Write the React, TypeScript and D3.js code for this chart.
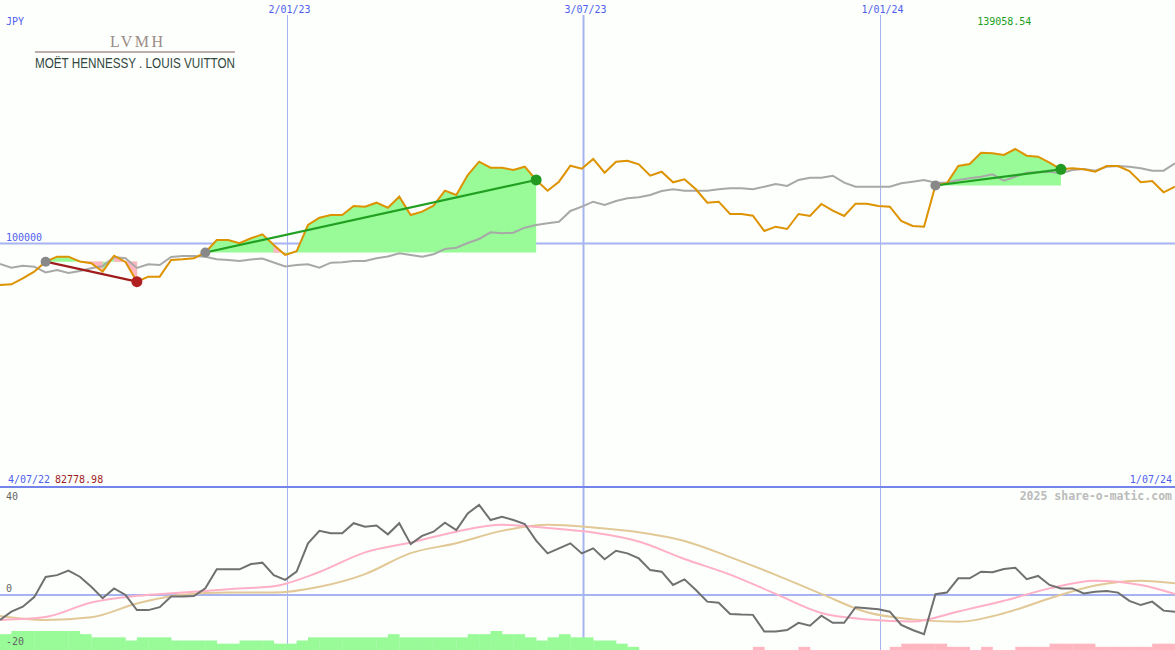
import * as d3 from 'd3';

// weekly closes, first week starts here
const startWeek = new Date(2022, 6, 10);

const price = [
  82778.98, 83080, 85480, 88290, 92430, 94500, 94500, 92500, 91770, 88290,
  94910, 92300, 84150, 86220, 86220, 93130, 93420, 93830, 96230, 101410,
  101410, 100040, 102110, 103770, 99340, 95200, 96730, 107610, 110640, 111750,
  111750, 115480, 115190, 116840, 114770, 119320, 111750, 113120, 115600, 121810,
  120030, 128300, 133810, 131330, 131330, 130370, 131740, 126240, 121810, 125530,
  132150, 130910, 134930, 129260, 133810, 134220, 132730, 128010, 129670, 125280,
  126530, 122390, 116840, 117260, 112170, 112170, 111460, 105130, 106910, 105960,
  112170, 111340, 116300, 113530, 111340, 116430, 116430, 115480, 115190, 109270,
  107200, 106910, 123960, 124870, 132030, 132860, 137530, 137280, 136580, 139058.54,
  136290, 135880, 133390, 130660, 131080, 130660, 129670, 132030, 132030, 129960,
  125280, 125820, 121150, 123460,
];

const average = [
  91476, 89945, 90772, 90358, 87958, 88993, 87752, 88579, 89696, 90648,
  94372, 93834, 89821, 91352, 91062, 94372, 94786, 94786, 94496, 93421,
  93131, 92717, 93338, 93752, 92096, 90441, 91062, 91352, 89945, 92014,
  92179, 92717, 92717, 93834, 94579, 95903, 95200, 94496, 95490, 97683,
  98221, 100166, 101821, 104593, 104179, 104428, 106497, 107614, 108317, 108979,
  113407, 115186, 117255, 115890, 117545, 118662, 119076, 120028, 121683, 122387,
  121807, 121807, 121807, 122387, 122800, 122800, 122387, 123462, 124580, 123752,
  126235, 127187, 127187, 128014, 125118, 123462, 123462, 123462, 123462, 124869,
  125531, 126235, 125118, 125118, 126235, 126938, 127600, 128594, 125945, 127600,
  129256, 129421, 129669, 129007, 130373, 130787, 130083, 131738, 132028, 131738,
  131076, 130083, 130083, 133145,
];

const momentum = [
  -9.4, -6.3, -4.4, -0.8, 6.8, 7.5, 9.2, 6.9, 3.1, -1.2,
  2.5, 0, -5.7, -5.7, -4.6, -0.6, -0.6, -0.4, 2.5, 9.7,
  9.7, 9.7, 11.7, 12.2, 7.5, 5.7, 8.8, 19.5, 24.2, 23.3,
  23.3, 27.1, 25.8, 26.2, 22.9, 27.1, 19.2, 22.3, 23.9, 27.3,
  24.5, 30.8, 34, 28.3, 29.5, 28.3, 26.8, 20.5, 15.7, 17.6,
  19.5, 15.7, 17.6, 13.5, 16.7, 15.7, 13.8, 9.4, 8.8, 3.8,
  5.9, 1.9, -2.5, -2.9, -7.2, -7.4, -7.5, -13.8, -13.8, -13.2,
  -10.5, -11.6, -7.8, -10.5, -10.5, -4.6, -5, -5.4, -6.3, -11.3,
  -13.2, -14.8, 0.3, 0.9, 6.3, 6.3, 8.8, 8.6, 9.8, 10.3,
  6, 7.2, 3.8, 2.5, 2.5, 0.6, 1.2, 1.5, 0.9, -2.2,
  -3.8, -2.5, -5.9, -6.3,
];

// smoothed momentum, read every 4th week
const maWeeks = [0, 4, 8, 12, 16, 20, 24, 28, 32, 36, 40, 44, 48, 52, 56, 60, 64, 68, 72, 76, 80, 84, 88, 92, 96, 100, 103];
const fastMa = [-9.4, -8.3, -2.8, -0.3, 0.9, 2.2, 3.3, 8.7, 16.1, 19.8, 23.9, 26.5, 25.3, 23.6, 20.2, 13.6, 7.7, 0.4, -6.8, -9.2, -10, -6.2, -2.2, 2.5, 5.4, 3.8, 0.4];
const slowMa = [-7.9, -9.4, -8.4, -3.2, 0.1, 0.9, 0.9, 3.1, 7.9, 15.8, 19.5, 24.2, 26.5, 25.5, 23.7, 20.4, 14.3, 7.6, 0.4, -6.5, -9.2, -10.1, -6.9, -1.3, 3.6, 5.4, 4.4];

// signal histogram per week (+ green, - pink)
const signal = [
  5, 6, 6, 6, 6, 6, 6, 5, 4, 4,
  4, 3, 4, 4, 4, 3, 3, 3, 3, 2,
  2, 3, 3, 3, 2, 2, 3, 4, 4, 4,
  4, 4, 4, 4, 5, 4, 4, 4, 4, 4,
  4, 5, 5, 6, 5, 5, 4, 3, 4, 5,
  4, 4, 3, 3, 2, 1, 0, 0, 0, 0,
  0, 0, 0, 0, 0, 0, -1, 0, 0, 0,
  -1, 0, 0, 0, 0, 0, 0, 0, -1, -2,
  -2, -2, -2, -1, -1, 0, -1, 0, 0, -1,
  -1, -1, -2, -2, -2, -2, -1, -1, -1, -1,
  -1, -2, -2,
];

const trades = [
  { entry: 4, exit: 12 },
  { entry: 18, exit: 47 },
  { entry: 82, exit: 93 },
];

const gridDates = ['2/01/23', '3/07/23', '1/01/24'];
const momentumTicks = [40, 0, -20];

const W = 1175;
const H = 650;
const mono = '"DejaVu Sans Mono", monospace';
const blue = '#5060ee';
const gridBlue = '#a8b4f2';
const green = '#98fb98';
const pink = '#ffb6c1';

export default function App() {
  const weeks = price.map((_, i) => d3.timeDay.offset(startWeek, 7 * i));
  const parse = d3.timeParse('%d/%m/%y');

  const x = d3.scaleTime().domain([weeks[0], weeks[weeks.length - 1]]).range([0, W]);
  const y = d3.scaleLinear().domain([d3.min(price)!, d3.max(price)!]).range([285, 149]);
  const ym = d3.scaleLinear().domain([-20, 40]).range([648, 489]);
  const yb = d3.scaleLinear().domain([0, 6]).range([0, 19]);

  const weekLine = d3.line<number>().x((_, i) => x(weeks[i])).y(v => y(v));
  const momLine = d3.line<number>().x((_, i) => x(weeks[i])).y(v => ym(v));
  const smooth = d3.line<number>().x((_, k) => x(weeks[maWeeks[k]])).y(v => ym(v)).curve(d3.curveMonotoneX);

  const maxIdx = d3.maxIndex(price);
  const minIdx = d3.minIndex(price);

  // each trade: green area between entry price and close, pink where the week closes under entry
  const fills = trades.map((t, ti) => {
    const base = y(price[t.entry]);
    const area = d3.area<number>().x(j => x(weeks[j])).y0(base).y1(j => y(price[j]));
    const pinks = d3.range(t.entry + 1, t.exit + 1).filter(i => price[i] < price[t.entry]);
    return (
      <g key={`f${ti}`}>
        <path d={area(d3.range(t.entry, t.exit + 1)) || ''} fill={green} />
        {pinks.map(i => (
          <path key={i} d={area([i - 1, i]) || ''} fill={pink} stroke={pink} strokeWidth={0.5} />
        ))}
      </g>
    );
  });

  return (
    <>
      <style>{'body{margin:0}'}</style>
      <svg width={W} height={H} style={{ display: 'block', background: '#fcfffc' }}>
        <defs>
          <clipPath id="main">
            <rect x={0} y={15} width={W} height={471} />
          </clipPath>
          <clipPath id="lower">
            <rect x={0} y={488} width={W} height={H - 488} />
          </clipPath>
        </defs>

        {/* vertical date grid */}
        {gridDates.map(s => {
          const d = parse(s)!;
          const gx = Math.round(x(d)) + 0.5;
          return (
            <g key={s}>
              <line x1={gx} x2={gx} y1={15} y2={H} stroke={gridBlue} strokeWidth={d.getMonth() === 6 ? 2 : 1} />
              <text x={gx + 2} y={13} textAnchor="middle" fontFamily={mono} fontSize={10} fill={blue}>{s}</text>
            </g>
          );
        })}

        <text x={6} y={25} fontFamily={mono} fontSize={10} fill={blue}>JPY</text>

        {/* logo */}
        <text x={110} y={46.5} fontFamily='"Liberation Serif", serif' fontSize={16} fill="#9b8c88"
          textLength={53} lengthAdjust="spacing">LVMH</text>
        <rect x={35} y={51} width={200} height={2} fill="#bcaeab" />
        <text x={35} y={67.5} fontFamily='"Liberation Sans", sans-serif' fontSize={14} fill="#33473f"
          textLength={200} lengthAdjust="spacingAndGlyphs">MOËT HENNESSY . LOUIS VUITTON</text>

        {/* main price panel */}
        <line x1={0} x2={W} y1={Math.round(y(100000)) + 0.5} y2={Math.round(y(100000)) + 0.5} stroke={gridBlue} strokeWidth={2} />
        <text x={6} y={y(100000) - 2} fontFamily={mono} fontSize={10} fill={blue}>100000</text>

        <g clipPath="url(#main)">
          {fills}
          <path d={weekLine(average) || ''} fill="none" stroke="#a8a8a8" strokeWidth={2} />
          <path d={weekLine(price) || ''} fill="none" stroke="#dd9200" strokeWidth={2} />
          {trades.map((t, ti) => {
            const win = price[t.exit] > price[t.entry];
            const c = win ? '#22a022' : '#a01c1c';
            return (
              <g key={`t${ti}`}>
                <line x1={x(weeks[t.entry])} y1={y(price[t.entry])} x2={x(weeks[t.exit])} y2={y(price[t.exit])}
                  stroke={c} strokeWidth={2.2} />
                <circle cx={x(weeks[t.entry])} cy={y(price[t.entry])} r={5} fill="#888" />
                <circle cx={x(weeks[t.exit])} cy={y(price[t.exit])} r={5.5} fill={win ? '#229a22' : '#b02020'} />
              </g>
            );
          })}
        </g>

        <text x={x(weeks[maxIdx]) - 11} y={25} textAnchor="middle" fontFamily={mono} fontSize={10} fill="#22a022">
          {price[maxIdx].toFixed(2)}
        </text>

        {/* separator */}
        <line x1={0} x2={W} y1={487} y2={487} stroke="#7484ea" strokeWidth={2} />
        <text x={8} y={483} fontFamily={mono} fontSize={10} fill={blue}>{d3.timeFormat('%-d/%m/%y')(new Date(2022, 6, 4))}</text>
        <text x={55} y={483} fontFamily={mono} fontSize={10} fill="#a01c1c">{price[minIdx].toFixed(2)}</text>
        <text x={1172} y={483} textAnchor="end" fontFamily={mono} fontSize={10} fill={blue}>1/07/24</text>
        <text x={1172} y={500} textAnchor="end" fontFamily={mono} fontSize={11.5} fontWeight="bold" fill="#bbbbbb">
          2025 share-o-matic.com
        </text>

        {/* momentum panel */}
        <g clipPath="url(#lower)">
          {signal.map((v, i) =>
            v === 0 ? null : (
              <rect key={`b${i}`} x={x(weeks[i])} width={x(weeks[i + 1]) - x(weeks[i]) + 0.3}
                y={H - yb(Math.abs(v))} height={yb(Math.abs(v))} fill={v > 0 ? green : pink} />
            )
          )}
          <line x1={0} x2={W} y1={ym(0)} y2={ym(0)} stroke={gridBlue} strokeWidth={2} />
          <path d={smooth(slowMa) || ''} fill="none" stroke="#e2c896" strokeWidth={2} />
          <path d={smooth(fastMa) || ''} fill="none" stroke="#ffb0c6" strokeWidth={2} />
          <path d={momLine(momentum) || ''} fill="none" stroke="#707070" strokeWidth={2} />
        </g>
        {momentumTicks.map(t => (
          <text key={t} x={6} y={Math.min(Math.max(ym(t) - 3, 500), 645)} fontFamily={mono} fontSize={10} fill="#666">
            {t}
          </text>
        ))}
      </svg>
    </>
  );
}
